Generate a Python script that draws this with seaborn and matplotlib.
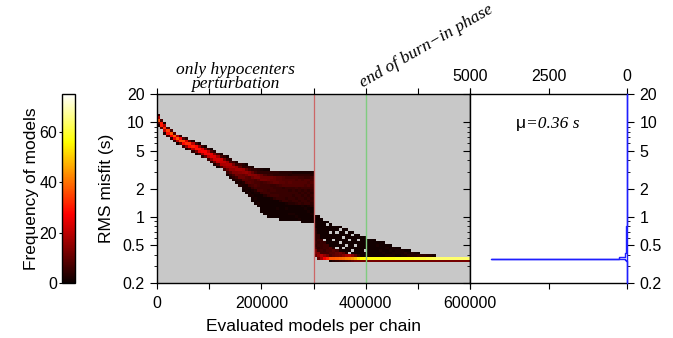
import numpy as np
import pandas as pd
import matplotlib
matplotlib.use("Agg")
import matplotlib.pyplot as plt
import matplotlib.transforms as mtransforms
from matplotlib.ticker import FixedLocator, LogLocator, NullFormatter
import seaborn as sns

## Values
# iterations at which the spread of the chains was read
anchor_models = [0, 10000, 20000, 35000, 50000, 65000, 80000, 100000, 125000, 155000,
                 190000, 210000, 250000, 298000,
                 302000, 310000, 320000, 340000, 360000, 380000, 400000, 420000,
                 450000, 480000, 505000, 530000, 540000, 600000]
# RMS misfit (s) of the chains at those iterations: lowest, 10%, 50%, 90%, highest
misfit_q0 = [9.8, 8.3, 7.2, 6.3, 5.6, 5.0, 4.6, 4.0, 3.2, 2.2, 1.35, 1.0, 0.92, 0.87,
             0.38, 0.36, 0.355, 0.352, 0.349, 0.347, 0.347, 0.347, 0.347, 0.347, 0.347, 0.347, 0.347, 0.347]
misfit_q10 = [10.7, 8.8, 7.6, 6.6, 5.9, 5.4, 4.85, 4.25, 3.45, 2.6, 1.9, 1.65, 1.4, 1.3,
              0.40, 0.37, 0.36, 0.357, 0.355, 0.353, 0.353, 0.353, 0.353, 0.353, 0.353, 0.353, 0.353, 0.353]
misfit_q50 = [11.2, 9.4, 8.05, 6.95, 6.25, 5.75, 5.2, 4.6, 3.8, 3.05, 2.5, 2.3, 2.1, 2.0,
              0.47, 0.42, 0.39, 0.37, 0.362, 0.36, 0.36, 0.36, 0.36, 0.36, 0.36, 0.36, 0.36, 0.36]
misfit_q90 = [11.8, 10.0, 8.5, 7.3, 6.6, 6.1, 5.55, 4.95, 4.15, 3.4, 2.9, 2.75, 2.65, 2.6,
              0.75, 0.64, 0.55, 0.46, 0.41, 0.385, 0.37, 0.365, 0.362, 0.361, 0.36, 0.36, 0.36, 0.36]
misfit_q100 = [13.0, 10.5, 8.9, 7.6, 6.9, 6.4, 5.85, 5.3, 4.5, 3.75, 3.25, 3.1, 3.0, 2.95,
               1.07, 1.0, 0.93, 0.83, 0.76, 0.68, 0.62, 0.57, 0.50, 0.44, 0.40, 0.385, 0.363, 0.363]
quantile_ranks = [0.0, 0.1, 0.5, 0.9, 1.0]
n_chains = 76

# histogram of misfit after burn-in (right panel)
misfit_edges = [0.20, 0.345, 0.352, 0.357, 0.363, 0.375, 0.42, 0.50, 0.62, 0.80, 1.0, 20.0]
model_counts = [0, 20, 60, 4330, 250, 60, 40, 30, 20, 8, 0, 0]

x_ticks = [0, 200000, 400000, 600000]
x_ticklabels = ["0", "200000", "400000", "600000"]
y_ticks = [0.2, 0.5, 1, 2, 5, 10, 20]
y_ticklabels = ["0.2", "0.5", "1", "2", "5", "10", "20"]
count_ticks = [5000, 2500, 0]
cbar_ticks = [0, 20, 40, 60]

## Build the chains from the quantiles
bin_w = 6000
centres = np.arange(bin_w / 2, 600000, bin_w)
qrows = [misfit_q0, misfit_q10, misfit_q50, misfit_q90, misfit_q100]
log_rows = np.array([np.interp(centres, anchor_models, np.log10(q)) for q in qrows])
ranks = (np.arange(n_chains) + 0.5) / n_chains
parts = []
for j, xc in enumerate(centres):
    vals = 10 ** np.interp(ranks, quantile_ranks, log_rows[:, j])
    parts.append(pd.DataFrame({"models": xc, "misfit": vals}))
df = pd.concat(parts, ignore_index=True)

## Plot
sns.set_style("ticks")
plt.rcParams["font.family"] = ["Liberation Sans", "DejaVu Sans"]
plt.rcParams["axes.linewidth"] = 1.0
for k in ["text.color", "axes.labelcolor", "xtick.color", "ytick.color", "axes.edgecolor"]:
    plt.rcParams[k] = "black"

W, H = 673, 338
fig = plt.figure(figsize=(W / 100, H / 100), dpi=100)
ax = fig.add_axes([157 / W, 55 / H, 313 / W, 189 / H])
ax2 = fig.add_axes([470 / W, 55 / H, 157 / W, 189 / H])
cax = fig.add_axes([62 / W, 55 / H, 13 / W, 189 / H])

ax.set_facecolor("#c8c8c8")
x_edges = np.arange(0, 600001, bin_w)
y_edges = np.log10(0.2) + 0.248 / 9 * np.arange(0, 74)
sns.histplot(data=df, x="models", y="misfit", bins=(x_edges, y_edges),
             log_scale=(False, True), cmap="hot", ax=ax)
mesh = ax.collections[0]
mesh.set_clim(0, 75)

ax.axvline(300000, color="#cc6666", lw=0.9)
ax.axvline(400000, color="#80cc80", lw=1.0)

ax.set_xlim(0, 600000)
ax.set_ylim(0.2, 20)
ax.set_xticks(x_ticks, labels=x_ticklabels)
ax.xaxis.set_minor_locator(FixedLocator([100000, 300000, 500000]))
ax.set_yticks(y_ticks, labels=y_ticklabels)
ax.yaxis.set_minor_locator(LogLocator(subs=[3, 4, 6, 7, 8, 9]))
ax.yaxis.set_minor_formatter(NullFormatter())
ax.tick_params(axis="x", which="both", top=True, bottom=True, direction="out",
               length=4, width=0.8, labelsize=11.5, pad=5)
ax.tick_params(axis="y", which="major", left=True, right=False, direction="out",
               length=5, width=0.8, labelsize=11.5, pad=4)
ax.tick_params(axis="y", which="minor", left=True, right=False, direction="out",
               length=2.5, width=0.6)
ax.set_xlabel("Evaluated models per chain", fontsize=12.5, labelpad=6)
ax.set_ylabel("RMS misfit (s)", fontsize=12.5, labelpad=6)

serif = dict(family="Liberation Serif", style="italic", fontsize=12.5)
tr = mtransforms.blended_transform_factory(ax.transData, ax.transAxes)
ax.text(150000, 1.01, "only hypocenters\nperturbation", transform=tr,
        ha="center", va="bottom", linespacing=0.85, **serif)
ax.text(394000, 1.032, "end of burn\u2212in phase", transform=tr, rotation=30,
        rotation_mode="anchor", ha="left", va="baseline", **serif)

# right panel: misfit histogram
sns.lineplot(x=model_counts, y=misfit_edges, sort=False, estimator=None,
             drawstyle="steps-pre", color="#1f1fff", lw=1.0, ax=ax2,
             clip_on=False, zorder=3)
ax2.set_yscale("log")
ax2.set_xlim(5000, 0)
ax2.set_ylim(0.2, 20)
ax2.set_facecolor("white")
ax2.spines["right"].set_color("#1f1fff")
ax2.set_xticks(count_ticks, labels=[str(c) for c in count_ticks])
ax2.set_yticks(y_ticks, labels=y_ticklabels)
ax2.yaxis.set_minor_locator(LogLocator(subs=[3, 4, 6, 7, 8, 9]))
ax2.yaxis.set_minor_formatter(NullFormatter())
ax2.tick_params(axis="x", which="both", top=True, bottom=True, labeltop=True,
                labelbottom=False, direction="out", length=4, width=0.8,
                labelsize=11.5, pad=3)
ax2.tick_params(axis="y", which="major", left=True, right=True, labelleft=False,
                labelright=True, direction="out", length=5, width=0.8,
                labelsize=11.5, pad=4)
ax2.tick_params(axis="y", which="minor", left=True, right=True, direction="out",
                length=2.5, width=0.6)
ax2.set_xlabel("")
ax2.set_ylabel("")
ax2.text(3232, 8.7, "\u03bc", ha="right", va="baseline", fontsize=12.5)
ax2.text(3232, 8.7, "=0.36 s", ha="left", va="baseline", **serif)

# colour bar
cb = fig.colorbar(mesh, cax=cax)
cb.set_ticks(cbar_ticks)
cb.outline.set_linewidth(1.0)
cb.outline.set_edgecolor("black")
cax.yaxis.set_ticks_position("left")
cax.yaxis.set_label_position("left")
cax.tick_params(direction="out", length=2, width=0.8, labelsize=11.5, pad=1.5)
cb.set_label("Frequency of models", fontsize=12.5, labelpad=0)

fig.savefig("out.png", dpi=100)
